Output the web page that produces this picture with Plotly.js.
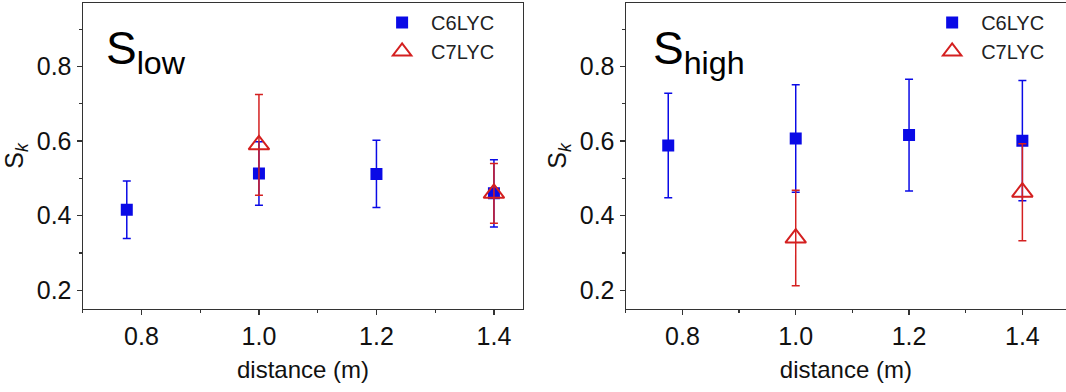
<!DOCTYPE html>
<html>
<head>
<meta charset="utf-8">
<script src="https://cdn.plot.ly/plotly-3.0.1.min.js"></script>
<style>html,body{margin:0;padding:0;background:#fff;}#chart{width:1066px;height:392px;}</style>
</head>
<body>
<div id="chart"></div>
<script>
// Data
const distC6 = [0.775, 1.0, 1.2, 1.4];
const distC7 = [1.0, 1.4];
const lowC6 = [0.416, 0.513, 0.512, 0.460];
const lowC6Err = [0.077, 0.085, 0.09, 0.09];
const lowC7 = [0.590, 0.460];
const lowC7Err = [0.135, 0.08];
const highC6 = [0.588, 0.607, 0.616, 0.601];
const highC6Err = [0.14, 0.144, 0.15, 0.161];
const highC7 = [0.340, 0.463];
const highC7Err = [0.128, 0.13];
const seriesNames = ['C6LYC', 'C7LYC'];
const panelLabels = ['S<sub>low</sub>', 'S<sub>high</sub>'];

const BLUE = '#0a0ae6';
const RED = '#d42020';
const FONT = 'Liberation Sans, Arial, sans-serif';

function c6(x, y, e, xa, ya, leg) {
  return {x: x, y: y, xaxis: xa, yaxis: ya, name: seriesNames[0], legend: leg,
    type: 'scatter', mode: 'markers',
    marker: {symbol: 'square', size: 12, color: BLUE},
    error_y: {type: 'data', array: e, visible: true, color: BLUE, thickness: 1.5, width: 4}};
}
function c7(x, y, e, xa, ya, leg) {
  return {x: x, y: y, xaxis: xa, yaxis: ya, name: seriesNames[1], legend: leg,
    type: 'scatter', mode: 'markers',
    marker: {symbol: 'triangle-up-open', size: 18, color: RED, line: {width: 2, color: RED}},
    error_y: {type: 'data', array: e, visible: true, color: RED, thickness: 1.5, width: 4}};
}

const traces = [
  c6(distC6, lowC6, lowC6Err, 'x', 'y', 'legend'),
  c7(distC7, lowC7, lowC7Err, 'x', 'y', 'legend'),
  c6(distC6, highC6, highC6Err, 'x2', 'y2', 'legend2'),
  c7(distC7, highC7, highC7Err, 'x2', 'y2', 'legend2')
];

function xax(domain, range, mirror) {
  return {domain: domain, range: range, showgrid: false, zeroline: false,
    showline: true, linecolor: '#333', linewidth: 1.2, mirror: mirror,
    ticks: 'outside', ticklen: 5, tickwidth: 1.2, tickcolor: '#333',
    dtick: 0.2, tick0: 0, tickformat: '.1f',
    minor: {dtick: 0.1, tick0: 0, ticks: 'outside', ticklen: 3, tickcolor: '#333', showgrid: false},
    tickfont: {family: FONT, size: 25, color: '#111'},
    title: {text: 'distance (m)', font: {family: FONT, size: 24, color: '#111'}, standoff: 12}};
}
function yax(anchor, mirror) {
  return {anchor: anchor, domain: [0, 1], range: [0.15, 0.97], showgrid: false, zeroline: false,
    showline: true, linecolor: '#333', linewidth: 1.2, mirror: mirror,
    ticks: 'outside', ticklen: 5, tickwidth: 1.2, tickcolor: '#333',
    dtick: 0.2, tick0: 0, tickformat: '.1f',
    minor: {dtick: 0.1, tick0: 0, ticks: 'outside', ticklen: 3, tickcolor: '#333', showgrid: false},
    tickfont: {family: FONT, size: 25, color: '#111'},
    title: {text: 'S<sub><i>k</i></sub>', font: {family: FONT, size: 25, color: '#111'}, standoff: 6}};
}

const layout = {
  width: 1066, height: 392,
  margin: {l: 0, r: 0, t: 3, b: 83},
  paper_bgcolor: '#fff', plot_bgcolor: '#fff',
  showlegend: true,
  xaxis: Object.assign(xax([0.0776, 0.4909], [0.7, 1.45], true), {anchor: 'y'}),
  yaxis: yax('x', true),
  xaxis2: Object.assign(xax([0.587, 1.0], [0.7, 1.477], true), {anchor: 'y2'}),
  yaxis2: yax('x2', false),
  legend: {x: 0.350, y: 1.0, xanchor: 'left', yanchor: 'top', bgcolor: 'rgba(0,0,0,0)',
    font: {family: FONT, size: 20, color: '#222'}, tracegroupgap: 0, itemwidth: 48},
  legend2: {x: 0.866, y: 1.0, xanchor: 'left', yanchor: 'top', bgcolor: 'rgba(0,0,0,0)',
    font: {family: FONT, size: 20, color: '#222'}, tracegroupgap: 0, itemwidth: 48},
  annotations: [
    {xref: 'paper', yref: 'paper', x: 0.098, y: 0.945, xanchor: 'left', yanchor: 'top', showarrow: false,
     text: panelLabels[0], font: {family: FONT, size: 46, color: '#000'}},
    {xref: 'paper', yref: 'paper', x: 0.611, y: 0.945, xanchor: 'left', yanchor: 'top', showarrow: false,
     text: panelLabels[1], font: {family: FONT, size: 46, color: '#000'}}
  ]
};

Plotly.newPlot('chart', traces, layout, {displayModeBar: false, staticPlot: true});
</script>
</body>
</html>
